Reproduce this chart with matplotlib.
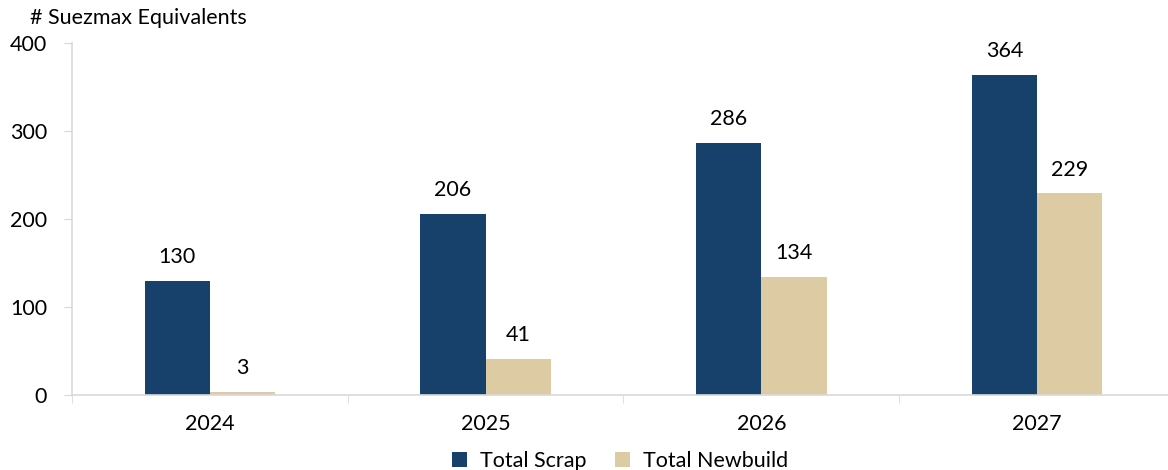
import numpy as np
import matplotlib.pyplot as plt

years = ["2024", "2025", "2026", "2027"]
total_scrap = [130, 206, 286, 364]
total_newbuild = [3, 41, 134, 229]

plt.rcParams['font.family'] = ['Lato', 'DejaVu Sans']

navy = "#17406A"
sand = "#DDCBA4"
grid_grey = "#D9D9D9"

fig = plt.figure(figsize=(11.68, 4.70), dpi=100)
ax = fig.add_axes([72 / 1168, 75 / 470, 1 - 72 / 1168, (395 - 43) / 470])

x = np.arange(len(years))
w = 0.237
b1 = ax.bar(x - w / 2, total_scrap, w, color=navy, label="Total Scrap")
b2 = ax.bar(x + w / 2, total_newbuild, w, color=sand, label="Total Newbuild")

# value labels above each bar
for bars, vals in ((b1, total_scrap), (b2, total_newbuild)):
    for rect, v in zip(bars, vals):
        ax.annotate(str(v), (rect.get_x() + rect.get_width() / 2, v),
                    xytext=(0, 10), textcoords="offset points",
                    ha="center", va="bottom", fontsize=15.5)

ax.set_xlim(-0.5, 3.475)
ax.set_ylim(0, 400)
ax.set_yticks([0, 100, 200, 300, 400])
ax.tick_params(axis="y", length=6, color=grid_grey, labelsize=15.5, pad=12)
ax.set_xticks(x)
ax.set_xticklabels(years)
ax.set_xticks([-0.5, 0.5, 1.5, 2.5], minor=True)
ax.tick_params(axis="x", which="major", length=0, labelsize=15.5, pad=14)
ax.tick_params(axis="x", which="minor", length=6, color=grid_grey)

for side in ("top", "right"):
    ax.spines[side].set_visible(False)
for side in ("left", "bottom"):
    ax.spines[side].set_color(grid_grey)
    ax.spines[side].set_linewidth(1.2)

fig.text(30 / 1168, 1 - 18 / 470, "# Suezmax Equivalents", fontsize=15.5,
         ha="left", va="center")

ax.legend(loc="lower center", bbox_to_anchor=(0.5, -0.27), ncol=2,
          frameon=False, fontsize=15.5, handlelength=0.7, handleheight=0.7,
          columnspacing=1.3, handletextpad=0.6)

fig.savefig("out.png", dpi=100)
